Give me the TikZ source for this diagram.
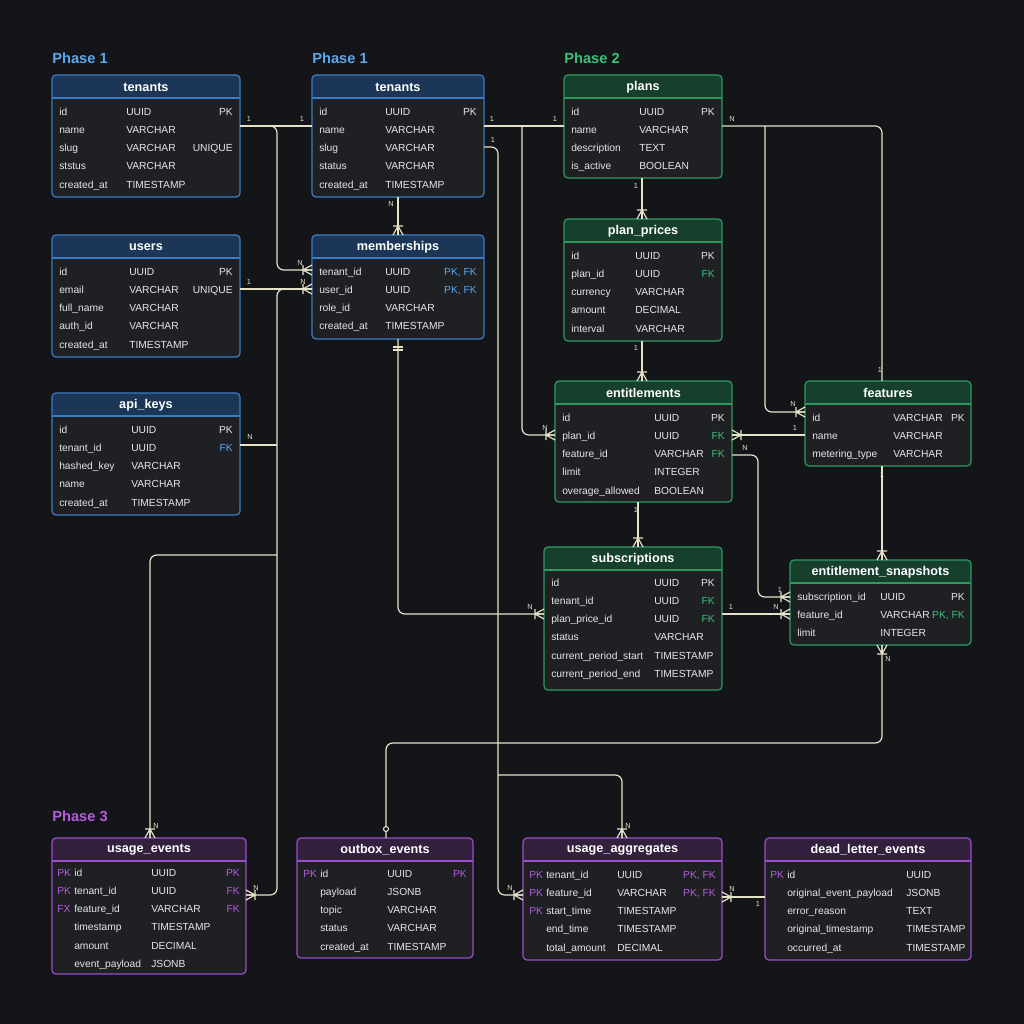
\documentclass[tikz,border=0pt]{standalone}
\usepackage{fontspec}
\setmainfont{Liberation Sans}
\usepackage{tikz}
\usetikzlibrary{calc}
\definecolor{bgc}{HTML}{141519}
\definecolor{tblbg}{HTML}{1E2024}
\definecolor{rowtxt}{HTML}{E6E6E6}
\definecolor{conc}{HTML}{E6E2C8}
\definecolor{bluebd}{HTML}{3C7CC4}\definecolor{bluehd}{HTML}{1B3656}\definecolor{kbc}{HTML}{5AA8F0}
\definecolor{greenbd}{HTML}{2E9A60}\definecolor{greenhd}{HTML}{173F2E}\definecolor{kgc}{HTML}{3CC078}
\definecolor{purplebd}{HTML}{9A4FC8}\definecolor{purplehd}{HTML}{33203F}\definecolor{kpc}{HTML}{B55DDC}
\newcommand\kb[1]{\textcolor{kbc}{#1}}
\newcommand\kg[1]{\textcolor{kgc}{#1}}
\newcommand\kp[1]{\textcolor{kpc}{#1}}
\tikzset{
  cell/.style={anchor=base west,inner sep=0pt,text=rowtxt,font=\fontsize{7.7}{9}\selectfont},
  ttl/.style={inner sep=0pt,text=white,font=\bfseries\fontsize{9.5}{11}\selectfont},
  phase/.style={anchor=west,inner sep=0pt,font=\bfseries\fontsize{11}{13}\selectfont},
  conn/.style={draw=conc,line width=0.9pt,rounded corners=5pt},
  card/.style={text=conc,inner sep=0pt,font=\fontsize{5.5}{6}\selectfont},
  crow/.pic={\draw[conc,line width=0.9pt] (-9,0)--(0,-5) (-9,0)--(0,5) (-9,0)--(0,0) (-9,-5)--(-9,5);},
}
% table frame: name, x, y, w, h, theme, title
\newcommand\ertable[7]{%
  \fill[#6hd,rounded corners=3pt] (#2,#3) rectangle ++(#4,23);
  \fill[tblbg] (#2,#3+23) rectangle ++(#4,#5-26);
  \fill[tblbg,rounded corners=3pt] (#2,#3+#5-8) rectangle ++(#4,8);
  \draw[#6bd,line width=0.9pt] (#2,#3+23)--++(#4,0);
  \draw[#6bd,line width=0.9pt,rounded corners=3pt] (#2,#3) rectangle ++(#4,#5);
  \node[ttl] (#1) at ({#2+#4/2},#3+12) {#7};}
% rows: xprefix, y0, xname, xtype, xkey(right), list p/n/t/k
\newcommand\errows[6]{%
  \foreach \p/\n/\t/\k [count=\i from 0] in {#6}{
    \node[cell,text=kpc] at (#1,{#2+4+\i*18.3}) {\p};
    \node[cell] at (#3,{#2+4+\i*18.3}) {\n};
    \node[cell] at (#4,{#2+4+\i*18.3}) {\t};
    \node[cell,anchor=base east] at (#5,{#2+4+\i*18.3}) {\k};}}
\begin{document}
\begin{tikzpicture}[x=0.75pt,y=-0.75pt]
\fill[bgc] (0,0) rectangle (1024,1024);
\useasboundingbox (0,0) rectangle (1024,1024);
% phase labels
\node[phase,text=kbc] at (52,58) {Phase 1};
\node[phase,text=kbc] at (312,58) {Phase 1};
\node[phase,text=kgc] at (564,58) {Phase 2};
\node[phase,text=kpc] at (52,816) {Phase 3};
% phase 1 tables
\ertable{tenA}{52}{75}{188}{122}{blue}{tenants}
\errows{52}{111}{59}{126}{233}{/id/UUID/PK,/name/VARCHAR/,/slug/VARCHAR/UNIQUE,/ststus/VARCHAR/,/created\_at/TIMESTAMP/}
\ertable{tenB}{312}{75}{172}{122}{blue}{tenants}
\errows{312}{111}{319}{385}{477}{/id/UUID/PK,/name/VARCHAR/,/slug/VARCHAR/,/status/VARCHAR/,/created\_at/TIMESTAMP/}
\ertable{users}{52}{235}{188}{122}{blue}{users}
\errows{52}{271}{59}{129}{233}{/id/UUID/PK,/email/VARCHAR/UNIQUE,/full\_name/VARCHAR/,/auth\_id/VARCHAR/,/created\_at/TIMESTAMP/}
\ertable{mem}{312}{235}{172}{104}{blue}{memberships}
\errows{312}{271}{319}{385}{477}{/tenant\_id/UUID/{\kb{PK, FK}},/user\_id/UUID/{\kb{PK, FK}},/role\_id/VARCHAR/,/created\_at/TIMESTAMP/}
\ertable{keys}{52}{393}{188}{122}{blue}{api\_keys}
\errows{52}{429}{59}{131}{233}{/id/UUID/PK,/tenant\_id/UUID/\kb{FK},/hashed\_key/VARCHAR/,/name/VARCHAR/,/created\_at/TIMESTAMP/}
% phase 2 tables
\ertable{plans}{564}{75}{158}{103}{green}{plans}
\errows{564}{111}{571}{639}{715}{/id/UUID/PK,/name/VARCHAR/,/description/TEXT/,/is\_active/BOOLEAN/}
\ertable{prices}{564}{219}{158}{122}{green}{plan\_prices}
\errows{564}{255}{571}{635}{715}{/id/UUID/PK,/plan\_id/UUID/\kg{FK},/currency/VARCHAR/,/amount/DECIMAL/,/interval/VARCHAR/}
\ertable{ent}{555}{381}{177}{121}{green}{entitlements}
\errows{555}{417}{562}{654}{725}{/id/UUID/PK,/plan\_id/UUID/\kg{FK},/feature\_id/VARCHAR/\kg{FK},/limit/INTEGER/,/overage\_allowed/BOOLEAN/}
\ertable{feat}{805}{381}{166}{85}{green}{features}
\errows{805}{417}{812}{893}{965}{/id/VARCHAR/PK,/name/VARCHAR/,/metering\_type/VARCHAR/}
\ertable{subs}{544}{547}{178}{143}{green}{subscriptions}
\errows{544}{582}{551}{654}{715}{/id/UUID/PK,/tenant\_id/UUID/\kg{FK},/plan\_price\_id/UUID/\kg{FK},/status/VARCHAR/,/current\_period\_start/TIMESTAMP/,/current\_period\_end/TIMESTAMP/}
\ertable{snap}{790}{560}{181}{85}{green}{entitlement\_snapshots}
\errows{790}{596}{797}{880}{965}{/subscription\_id/UUID/PK,/feature\_id/VARCHAR/{\kg{PK, FK}},/limit/INTEGER/}
% phase 3 tables
\ertable{usage}{52}{838}{194}{136}{purple}{usage\_events}
\errows{57}{872}{74}{151}{240}{PK/id/UUID/\kp{PK},PK/tenant\_id/UUID/\kp{FK},FX/feature\_id/VARCHAR/\kp{FK},/timestamp/TIMESTAMP/,/amount/DECIMAL/,/event\_payload/JSONB/}
\ertable{outbox}{297}{838}{176}{120}{purple}{outbox\_events}
\errows{303}{873}{320}{387}{467}{PK/id/UUID/\kp{PK},/payload/JSONB/,/topic/VARCHAR/,/status/VARCHAR/,/created\_at/TIMESTAMP/}
\ertable{aggr}{523}{838}{199}{122}{purple}{usage\_aggregates}
\errows{529}{874}{546}{617}{716}{PK/tenant\_id/UUID/{\kp{PK, FK}},PK/feature\_id/VARCHAR/{\kp{PK, FK}},PK/start\_time/TIMESTAMP/,/end\_time/TIMESTAMP/,/total\_amount/DECIMAL/}
\ertable{dead}{765}{838}{206}{122}{purple}{dead\_letter\_events}
\errows{770}{874}{787}{906}{965}{PK/id/UUID/,/original\_event\_payload/JSONB/,/error\_reason/TEXT/,/original\_timestamp/TIMESTAMP/,/occurred\_at/TIMESTAMP/}
% connection points
\coordinate (tenA-id) at (240,126); \coordinate (tenB-id) at (312,126);
\coordinate (tenB-r1) at (484,126); \coordinate (tenB-r2) at (484,147);
\coordinate (tenB-s) at (398,197); \coordinate (mem-n) at (398,235);
\coordinate (mem-t) at (312,270); \coordinate (mem-u) at (312,289);
\coordinate (mem-s) at (398,339); \coordinate (users-e) at (240,289);
\coordinate (keys-e) at (240,445);
\coordinate (plans-w) at (564,126); \coordinate (plans-e) at (722,126);
\coordinate (plans-s) at (642,178); \coordinate (prices-n) at (642,219);
\coordinate (prices-s) at (642,341); \coordinate (ent-n) at (642,381);
\coordinate (ent-w) at (555,435); \coordinate (ent-e1) at (732,435);
\coordinate (ent-e2) at (732,455); \coordinate (ent-s) at (638,502);
\coordinate (feat-n) at (882,381); \coordinate (feat-w1) at (805,412);
\coordinate (feat-w2) at (805,435); \coordinate (feat-s) at (882,466);
\coordinate (subs-n) at (638,547); \coordinate (subs-w) at (544,614);
\coordinate (subs-e) at (722,614);
\coordinate (snap-w1) at (790,597); \coordinate (snap-w2) at (790,614);
\coordinate (snap-n) at (882,560); \coordinate (snap-s) at (882,645);
\coordinate (usage-n) at (150,838); \coordinate (usage-e) at (246,895);
\coordinate (outbox-n) at (386,838);
\coordinate (aggr-n) at (622,838); \coordinate (aggr-w) at (523,895);
\coordinate (aggr-e) at (722,897); \coordinate (dead-w) at (765,897);
% connectors
\draw[conn] (tenA-id) -- (tenB-id);
\draw[conn] (tenA-id) -- (277,126) -- (277,270) -- (mem-t);
\draw[conn] (users-e) -- (mem-u);
\draw[conn] (mem-u) -- (277,289) -- (277,895) -- (usage-e);
\draw[conn] (keys-e) -- (277,445);
\draw[conn] (277,555) -- (150,555) -- (usage-n);
\draw[conn] (tenB-s) -- (mem-n);
\draw[conn] (tenB-r1) -- (plans-w);
\draw[conn] (522,126) -- (522,435) -- (ent-w);
\draw[conn] (tenB-r2) -- (498,147) -- (498,895) -- (aggr-w);
\draw[conn] (498,775) -- (622,775) -- (aggr-n);
\draw[conn] (plans-s) -- (prices-n);
\draw[conn] (prices-s) -- (ent-n);
\draw[conn] (plans-e) -- (882,126) -- (feat-n);
\draw[conn] (765,126) -- (765,412) -- (feat-w1);
\draw[conn] (feat-w2) -- (ent-e1);
\draw[conn] (ent-e2) -- (758,455) -- (758,597) -- (snap-w1);
\draw[conn] (feat-s) -- (snap-n);
\draw[conn] (ent-s) -- (subs-n);
\draw[conn] (subs-e) -- (snap-w2);
\draw[conn] (mem-s) -- (398,614) -- (subs-w);
\draw[conn] (snap-s) -- (882,743) -- (386,743) -- (outbox-n);
\draw[conn] (dead-w) -- (aggr-e);
% crow's feet
\foreach \c/\r in {mem-t/0,mem-u/0,usage-e/180,mem-n/-90,ent-w/0,aggr-w/0,aggr-n/-90,prices-n/-90,ent-n/-90,feat-w1/0,ent-e1/180,snap-w1/0,snap-n/-90,subs-n/-90,snap-w2/0,subs-w/0,aggr-e/180,usage-n/-90,snap-s/90}
  \pic[rotate=\r] at (\c) {crow};
\draw[conc,line width=0.9pt] (393,347)--(403,347) (393,350)--(403,350);
\draw[conc,line width=0.8pt,fill=bgc] (386,829) circle (2.5);
% cardinalities
\foreach \x/\y/\t in {249/119/1,302/119/1,300/263/N,249/282/1,303/282/N,250/437/N,
  492/119/1,555/119/1,493/140/1,391/204/N,545/428/N,636/186/1,636/348/1,
  732/119/N,880/370/1,793/404/N,795/428/1,745/448/N,780/590/1,636/510/1,
  731/607/1,776/607/N,882/475/1,888/659/N,530/607/N,156/826/N,256/888/N,
  510/888/N,628/826/N,732/889/N,758/904/1}
  \node[card] at (\x,\y) {\t};
\end{tikzpicture}
\end{document}
